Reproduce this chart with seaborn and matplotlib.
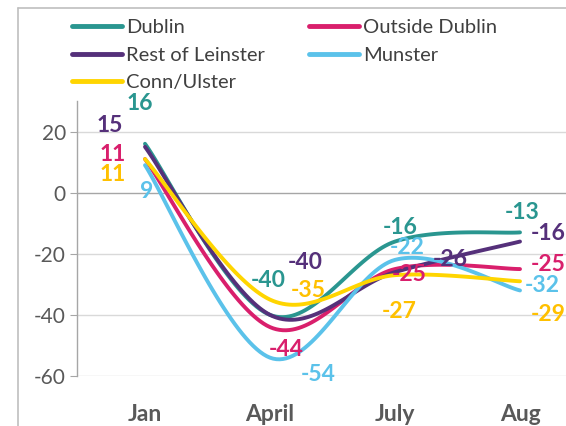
import numpy as np
import pandas as pd
import seaborn as sns
import matplotlib.pyplot as plt
from matplotlib.lines import Line2D

# Values
months = ["Jan", "April", "July", "Aug"]
dublin = [16, -40, -16, -13]
outside_dublin = [11, -44, -25, -25]
rest_of_leinster = [15, -40, -26, -16]
munster = [9, -54, -22, -32]
conn_ulster = [11, -35, -27, -29]

series = {
    "Dublin": dublin,
    "Outside Dublin": outside_dublin,
    "Rest of Leinster": rest_of_leinster,
    "Munster": munster,
    "Conn/Ulster": conn_ulster,
}

colors = {
    "Dublin": "#2A9690",
    "Outside Dublin": "#D91F6C",
    "Rest of Leinster": "#55307A",
    "Munster": "#5BC2EA",
    "Conn/Ulster": "#FFD500",
}
label_colors = dict(colors, **{"Conn/Ulster": "#FFC000"})

# label offsets in pixels (dx, dy) from each point, as placed in the original
offsets = {
    "Dublin": [(-5, 40), (-2, 34), (5, 14), (2, 20)],
    "Outside Dublin": [(-32, 5), (16, -22), (14, -5), (28, 5)],
    "Rest of Leinster": [(-35, 21), (35, 52), (55, 13), (28, 8)],
    "Munster": [(2, -26), (48, -17), (12, 12), (22, 5)],
    "Conn/Ulster": [(-32, -15), (38, 9), (4, -36), (28, -33)],
}


def smooth(xs, ys, n=40):
    # Excel-style smoothed line (Bezier through each point)
    p = np.column_stack([xs, ys]).astype(float)
    p_ext = np.vstack([p[0], p, p[-1]])
    out = []
    t = np.linspace(0, 1, n)[:, None]
    for i in range(len(p) - 1):
        p0, p1 = p_ext[i + 1], p_ext[i + 2]
        c1 = p0 + (p_ext[i + 2] - p_ext[i]) / 6
        c2 = p1 - (p_ext[i + 3] - p_ext[i + 1]) / 6
        seg = ((1 - t) ** 3) * p0 + 3 * ((1 - t) ** 2) * t * c1 + 3 * (1 - t) * t ** 2 * c2 + t ** 3 * p1
        out.append(seg if i == 0 else seg[1:])
    return np.vstack(out)


rows = []
for name, vals in series.items():
    curve = smooth(np.arange(len(months)), vals)
    for k, (x, y) in enumerate(curve):
        rows.append({"region": name, "x": x, "y": y, "order": k})
df = pd.DataFrame(rows)

sns.set_style("white")
plt.rcParams["font.family"] = ["Lato", "DejaVu Sans"]
plt.rcParams["axes.unicode_minus"] = False

fig = plt.figure(figsize=(5.66, 4.26), dpi=100)
ax = fig.add_axes([77 / 566, 50 / 426, 505.5 / 566, 275 / 426])

sns.lineplot(data=df, x="x", y="y", hue="region", palette=colors, sort=False,
             linewidth=2.8, ax=ax, legend=False, estimator=None, units="region")

for name, vals in series.items():
    for i, v in enumerate(vals):
        dx, dy = offsets[name][i]
        ax.annotate(str(v), (i, v), xytext=(dx * 0.72, dy * 0.72), textcoords="offset points",
                    ha="center", va="center", fontsize=16.5, fontweight="bold",
                    color=label_colors[name])

ax.set_xlim(-0.544, 3.5)
ax.set_ylim(-60, 30)
ax.set_yticks([20, 0, -20, -40, -60])
ax.set_xticks(range(len(months)))
ax.set_xticklabels(months, fontweight="bold")
ax.set_xlabel("")
ax.set_ylabel("")
ax.tick_params(axis="y", direction="out", length=5, color="#A6A6A6", labelsize=15,
               labelcolor="#595959", left=True, pad=3)
ax.tick_params(axis="x", length=0, labelsize=16.5, labelcolor="#595959", pad=20)
for y in [20, -20, -40, -60]:
    ax.axhline(y, color="#D9D9D9", lw=1, zorder=0)
ax.axhline(0, color="#A6A6A6", lw=1, zorder=0)
for s in ["top", "right", "bottom"]:
    ax.spines[s].set_visible(False)
ax.spines["left"].set_color("#A6A6A6")
ax.spines["left"].set_linewidth(1)

order = ["Dublin", "Rest of Leinster", "Conn/Ulster", "Outside Dublin", "Munster"]
handles = [Line2D([], [], color=colors[n], lw=3.5) for n in order]
fig.legend(handles, order, ncol=2, loc="upper left", bbox_to_anchor=(64 / 566, 1 - 11 / 426),
           frameon=False, fontsize=14.5, handlelength=2.5, handletextpad=0.2,
           columnspacing=2.15, labelspacing=0.52, labelcolor="#404040", borderaxespad=0)

# chart area border (only top and left edges are in frame)
fig.add_artist(Line2D([18 / 566, 18 / 566], [0, 1 - 8 / 426], color="#BFBFBF", lw=1.2))
fig.add_artist(Line2D([18 / 566, 1], [1 - 8 / 426, 1 - 8 / 426], color="#BFBFBF", lw=1.2))

fig.savefig("out.png", dpi=100)
